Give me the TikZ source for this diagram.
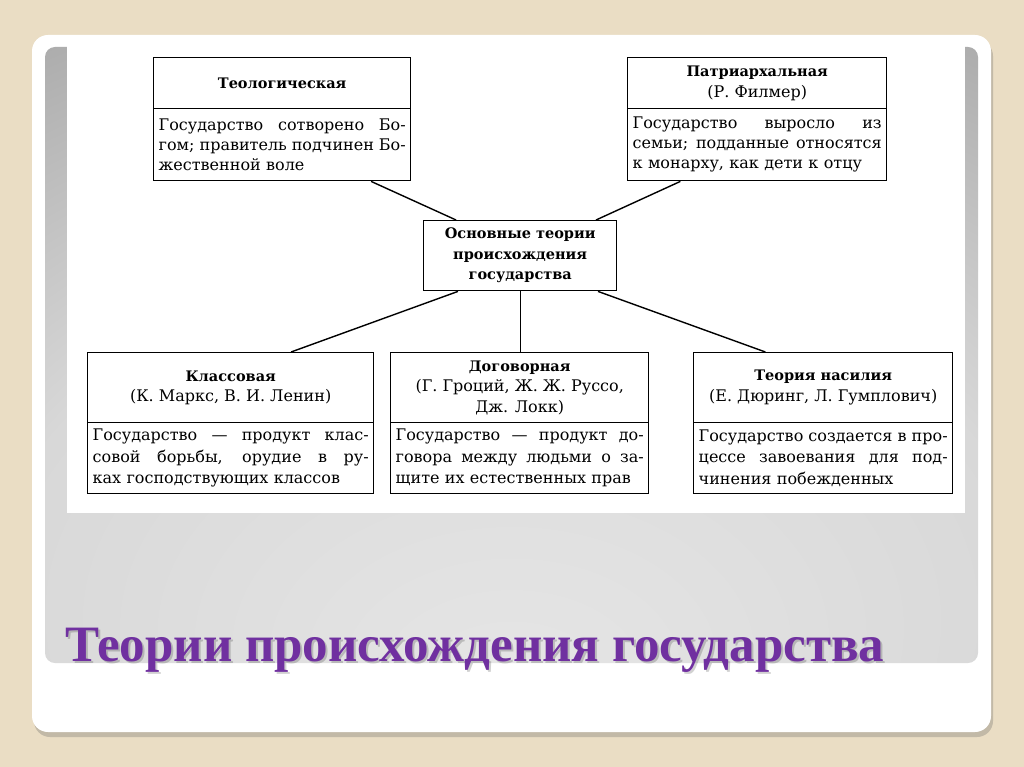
\documentclass[tikz,border=0pt]{standalone}
\usepackage{fontspec}
\setmainfont{Liberation Serif}
\newfontfamily\diagfont{DejaVu Serif}
\usetikzlibrary{shadows,calc}
\definecolor{bgbeige}{HTML}{EADDC4}
\definecolor{titlepurple}{HTML}{7030A0}
\definecolor{pcenter}{HTML}{E6E6E6}
\definecolor{pmid}{HTML}{D8D8D8}
\definecolor{pedge}{HTML}{A6A6A6}
\definecolor{pfar}{HTML}{9E9E9E}
\pgfdeclareradialshading{panelshade}{\pgfpoint{0bp}{-28bp}}{%
  color(0bp)=(pcenter); color(28bp)=(pmid); color(50bp)=(pedge); color(100bp)=(pfar)}
\newcommand\jl[2]{\makebox[#1][s]{\spaceskip=0.3333em plus 3em minus 0.1em\relax #2}\\}
\begin{document}
\begin{tikzpicture}[x=1pt,y=-1pt,
  frame/.style={draw=black, line width=1.4pt, inner sep=0pt, anchor=north west},
  head/.style={frame, align=center, minimum width=#1,
    font=\diagfont\fontsize{16}{20.5}\selectfont},
  body/.style={frame, align=left, inner xsep=5pt, text width=#1-10pt,
    font=\diagfont\fontsize{16}{20}\selectfont},
  link/.style={draw=black, line width=1.4pt}]
\useasboundingbox (0,0) rectangle (1024,767);
\fill[bgbeige] (0,0) rectangle (1024,767);
% slide
\path[fill=white, rounded corners=16pt,
  drop shadow={shadow xshift=2pt, shadow yshift=-5pt, opacity=0.3, fill=black!60}]
  (32,35) rectangle (991,732);
% grey panel
\path[shading=panelshade, rounded corners=10pt] (45,47) rectangle (978,663);
% diagram area
\fill[white] (67,45) rectangle (965,513);

% boxes
\node[head=257pt, minimum height=51pt] (t1) at (153,57)
  {{\diagfont\bfseries\fontsize{14.5}{20.5}\selectfont Теологическая}};
\node[body=257pt, minimum height=72pt] (b1) at (153,108)
  {\jl{247pt}{Государство сотворено Бо-}\jl{247pt}{гом; правитель подчинен Бо-}жественной воле};

\node[head=259pt, minimum height=51pt] (t2) at (627,57)
  {{\diagfont\bfseries\fontsize{14.5}{20.5}\selectfont Патриархальная}\\(Р. Филмер)};
\node[body=259pt, minimum height=72pt] (b2) at (627,108)
  {\jl{249pt}{Государство выросло из}\jl{249pt}{семьи; подданные относятся}к монарху, как дети к отцу};

\node[head=193pt, minimum height=70pt,
  font=\diagfont\bfseries\fontsize{14.5}{20.5}\selectfont] (c) at (423,220)
  {Основные теории\\происхождения\\государства};

\node[head=286pt, minimum height=70pt] (t4) at (87,352)
  {{\diagfont\bfseries\fontsize{14.5}{20.5}\selectfont Классовая}\\(К. Маркс, В. И. Ленин)};
\node[body=286pt, minimum height=71pt, font=\diagfont\fontsize{16}{21.5}\selectfont] (b4) at (87,422)
  {\jl{276pt}{Государство — продукт клас-}\jl{276pt}{совой борьбы, орудие в ру-}ках господствующих классов};

\node[head=258pt, minimum height=70pt] (t5) at (390,352)
  {{\diagfont\bfseries\fontsize{14.5}{20.5}\selectfont Договорная}\\(Г. Гроций, Ж. Ж. Руссо,\\Дж. Локк)};
\node[body=258pt, minimum height=71pt, font=\diagfont\fontsize{16}{21.5}\selectfont] (b5) at (390,422)
  {\jl{248pt}{Государство — продукт до-}\jl{248pt}{говора между людьми о за-}щите их естественных прав};

\node[head=259pt, minimum height=70pt] (t6) at (693,352)
  {{\diagfont\bfseries\fontsize{14.5}{20.5}\selectfont Теория насилия}\\(Е. Дюринг, Л. Гумплович)};
\node[body=259pt, minimum height=71pt, font=\diagfont\fontsize{16}{21.5}\selectfont] (b6) at (693,422)
  {\jl{249pt}{Государство создается в про-}\jl{249pt}{цессе завоевания для под-}чинения побежденных};

% connectors
\draw[link] ($(b1.south west)!0.844!(b1.south east)$) -- ($(c.north west)!0.17!(c.north east)$);
\draw[link] ($(b2.south west)!0.205!(b2.south east)$) -- ($(c.north west)!0.89!(c.north east)$);
\draw[link] ($(c.south west)!0.18!(c.south east)$) -- ($(t4.north west)!0.71!(t4.north east)$);
\draw[link] (c.south) -- (c.south |- t5.north);
\draw[link] ($(c.south west)!0.90!(c.south east)$) -- ($(t6.north west)!0.278!(t6.north east)$);

% title
\node[anchor=base west, text=black, opacity=0.18, inner sep=0pt,
  font=\bfseries\fontsize{51}{58}\selectfont] (titleshadow) at (67,663)
  {Теории происхождения государства};
\node[anchor=base west, text=titlepurple, inner sep=0pt,
  font=\bfseries\fontsize{51}{58}\selectfont] (title) at (65,661)
  {Теории происхождения государства};
\end{tikzpicture}
\end{document}
